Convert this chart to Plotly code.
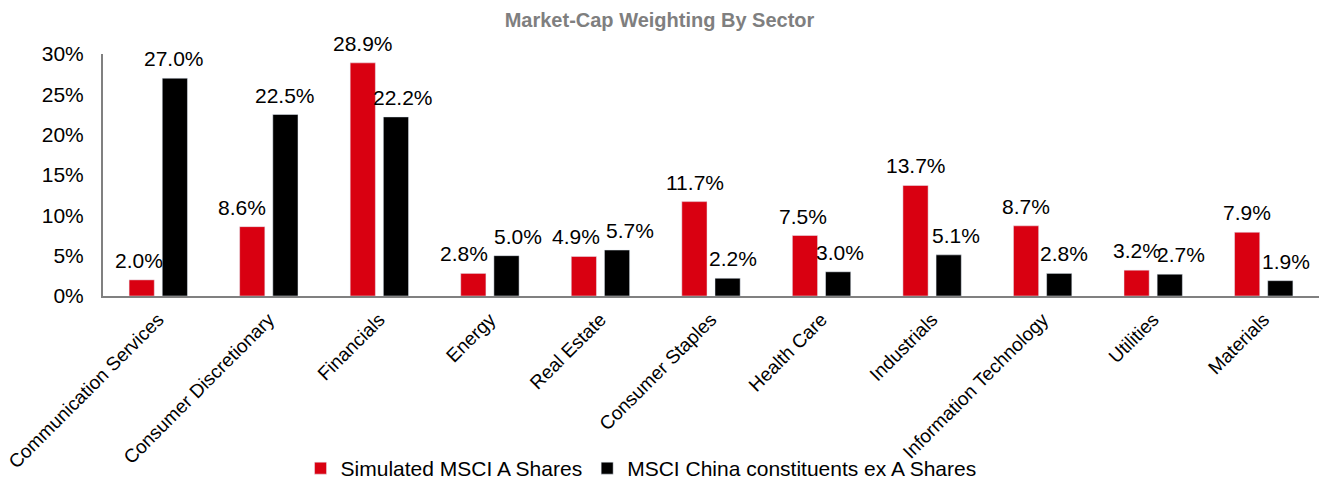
import plotly.graph_objs as go

# sector weights (%)
sectors = ["Communication Services", "Consumer Discretionary", "Financials", "Energy",
           "Real Estate", "Consumer Staples", "Health Care", "Industrials",
           "Information Technology", "Utilities", "Materials"]
a_shares = [2.0, 8.6, 28.9, 2.8, 4.9, 11.7, 7.5, 13.7, 8.7, 3.2, 7.9]
china_ex_a = [27.0, 22.5, 22.2, 5.0, 5.7, 2.2, 3.0, 5.1, 2.8, 2.7, 1.9]

y_ticks = [0, 5, 10, 15, 20, 25, 30]
y_tick_labels = ["0%", "5%", "10%", "15%", "20%", "25%", "30%"]

# horizontal nudges (px) of the value labels, so neighbours don't collide
red_nudge = [-3, -10, 0, -9, -8, 0, -2, 0, 0, 0, 0]
black_nudge = [-1, 0, 7, 12, 13, 5, 2, 7, 5, 11, 6]

font_main = "Liberation Sans, Arial, sans-serif"
red = "#d90011"

fig = go.Figure()
fig.add_trace(go.Bar(x=sectors, y=a_shares, name="Simulated MSCI A Shares",
                     marker_color=red))
fig.add_trace(go.Bar(x=sectors, y=china_ex_a, name="MSCI China constituents ex A Shares",
                     marker_color="#000000"))

# value labels above each bar (half a bar pitch left/right of the category centre)
half_pitch = 16.5
for vals, nudge, side in [(a_shares, red_nudge, -1), (china_ex_a, black_nudge, 1)]:
    for s, v, n in zip(sectors, vals, nudge):
        fig.add_annotation(x=s, y=v, text=f"{v:.1f}%", showarrow=False,
                           xanchor="center", yanchor="bottom",
                           xshift=side * half_pitch + n, yshift=6,
                           font=dict(size=21, color="black"))

fig.update_layout(
    width=1319, height=480,
    barmode="group", bargap=0.40, bargroupgap=0.24,
    plot_bgcolor="white", paper_bgcolor="white",
    font=dict(family=font_main, size=19, color="black"),
    margin=dict(l=103, r=0, t=54, b=184, autoexpand=False),
    title=dict(text="<b>Market-Cap Weighting By Sector</b>", x=0.5, xanchor="center",
               y=0.958, yanchor="middle", font=dict(size=20, color="#7f7f7f")),
    legend=dict(orientation="h", xref="container", yref="container",
                x=0.486, xanchor="center", y=0.024, yanchor="middle",
                bgcolor="rgba(0,0,0,0)", font=dict(size=21), itemwidth=30,
                traceorder="normal"),
)
fig.update_yaxes(range=[0, 30], tickvals=y_ticks, ticktext=y_tick_labels, showgrid=False,
                 showline=True, linecolor="#808080", linewidth=2, zeroline=False,
                 tickfont=dict(size=21), ticks="", ticklabelstandoff=13, automargin=False)
fig.update_xaxes(tickangle=-45, showline=True, linecolor="#808080", linewidth=2,
                 tickfont=dict(size=19), ticks="", ticklabelstandoff=3, automargin=False)

# drop the default page margin so the figure sits at the window's corner
fig.write_html("out.html", config={"displayModeBar": False},
               post_script="document.body.style.margin='0';")
